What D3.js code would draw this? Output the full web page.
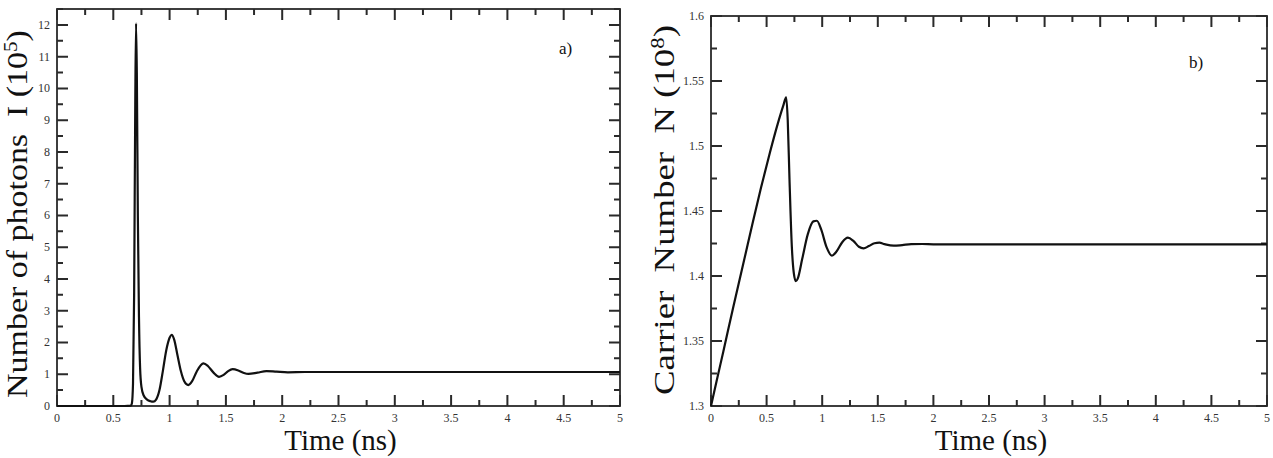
<!DOCTYPE html>
<html>
<head>
<meta charset="utf-8">
<script src="https://cdn.jsdelivr.net/npm/d3@7"></script>
<style>
  body { margin: 0; background: #fff; }
  svg { display: block; }
</style>
</head>
<body>
<svg id="chart" width="1273" height="458"></svg>
<script>
// panel a) photon number (10^5) vs time (ns)
const timeA = [0, 0.6, 0.655, 0.665, 0.675, 0.685, 0.695, 0.702, 0.709, 0.718, 0.728, 0.738, 0.75, 0.77, 0.8, 0.83, 0.855,
  0.88, 0.91, 0.94, 0.97, 1.0, 1.018, 1.04, 1.07, 1.1, 1.13, 1.166, 1.2, 1.24, 1.3, 1.34, 1.39, 1.439, 1.48, 1.52, 1.56,
  1.61, 1.66, 1.7, 1.78, 1.86, 1.95, 2.05, 2.2, 2.5, 3, 4, 5]
const photons = [0, 0, 0.01, 0.08, 0.7, 3.5, 9.5, 12.05, 10.5, 6, 2.8, 1.2, 0.6, 0.33, 0.2, 0.15, 0.135,
  0.2, 0.5, 1.1, 1.75, 2.15, 2.24, 2.1, 1.6, 1.1, 0.78, 0.66, 0.78, 1.08, 1.34, 1.26, 1.05, 0.92, 0.98, 1.1, 1.16,
  1.12, 1.04, 1.01, 1.05, 1.1, 1.08, 1.06, 1.07, 1.07, 1.07, 1.07, 1.07]

// panel b) carrier number (10^8) vs time (ns)
const timeB = [0, 0.05, 0.111, 0.2, 0.3, 0.375, 0.45, 0.53, 0.6, 0.65, 0.676, 0.69, 0.706, 0.727, 0.745, 0.763, 0.78,
  0.82, 0.87, 0.92, 0.952, 0.99, 1.04, 1.087, 1.13, 1.18, 1.231, 1.28, 1.33, 1.372, 1.42, 1.47, 1.514, 1.56, 1.643,
  1.72, 1.8, 1.9, 2.0, 2.5, 3, 4, 5]
const carriers = [1.3, 1.319, 1.342, 1.376, 1.413, 1.441, 1.468, 1.495, 1.517, 1.531, 1.5375, 1.52, 1.474, 1.4225, 1.402, 1.396, 1.398,
  1.413, 1.432, 1.442, 1.4425, 1.436, 1.422, 1.4156, 1.419, 1.426, 1.4295, 1.427, 1.4225, 1.4213, 1.423, 1.4252, 1.4256, 1.4245, 1.4233,
  1.4238, 1.4245, 1.4246, 1.4244, 1.4244, 1.4244, 1.4244, 1.4244]

const xMajor = [0, 0.5, 1, 1.5, 2, 2.5, 3, 3.5, 4, 4.5, 5]
const xMinor = [0.25, 0.75, 1.25, 1.75, 2.25, 2.75, 3.25, 3.75, 4.25, 4.75]
const yMajorA = [0, 1, 2, 3, 4, 5, 6, 7, 8, 9, 10, 11, 12]
const yMinorA = [0.5, 1.5, 2.5, 3.5, 4.5, 5.5, 6.5, 7.5, 8.5, 9.5, 10.5, 11.5, 12.5]
const yMajorB = [1.3, 1.35, 1.4, 1.45, 1.5, 1.55, 1.6]
const yMinorB = [1.325, 1.375, 1.425, 1.475, 1.525, 1.575]

const SERIF = '"Liberation Serif", "Times New Roman", serif'
const MAJOR = 11
const MINOR = 6
const TICK_W = 2
const AXIS_COLOR = '#2a2a2a'

const svg = d3.select('#chart')

function drawPanel(opt) {
  const { left, right, top, bottom } = opt
  const x = d3.scaleLinear().domain([0, 5]).range([left, right])
  const y = d3.scaleLinear().domain(opt.yDomain).range([bottom, top])
  const g = svg.append('g')
  const fmt = d3.format('~g')

  g.append('rect')
    .attr('x', left).attr('y', top)
    .attr('width', right - left).attr('height', bottom - top)
    .attr('fill', 'none').attr('stroke', AXIS_COLOR).attr('stroke-width', 1.8)

  // inward ticks on all four sides
  const xt = xMajor.map(v => [v, MAJOR]).concat(xMinor.map(v => [v, MINOR]))
  const yt = opt.yMajor.map(v => [v, MAJOR]).concat(opt.yMinor.map(v => [v, MINOR]))

  const tickPath = d3.path()
  xt.forEach(([v, len]) => {
    tickPath.moveTo(x(v), bottom); tickPath.lineTo(x(v), bottom - len)
    tickPath.moveTo(x(v), top); tickPath.lineTo(x(v), top + len)
  })
  yt.forEach(([v, len]) => {
    tickPath.moveTo(left, y(v)); tickPath.lineTo(left + len, y(v))
    tickPath.moveTo(right, y(v)); tickPath.lineTo(right - len, y(v))
  })
  g.append('path')
    .attr('d', tickPath.toString())
    .attr('fill', 'none')
    .attr('stroke', AXIS_COLOR)
    .attr('stroke-width', TICK_W)

  // tick labels
  const labelStyle = s => s
    .style('font-family', SERIF)
    .style('font-size', '12px')
    .attr('fill', '#333')

  g.append('g').selectAll('text').data(xMajor).join('text')
    .attr('x', d => x(d))
    .attr('y', bottom + 16)
    .attr('text-anchor', 'middle')
    .call(labelStyle)
    .text(fmt)

  g.append('g').selectAll('text').data(opt.yMajor).join('text')
    .attr('x', left - 7)
    .attr('y', d => y(d) + 4)
    .attr('text-anchor', 'end')
    .call(labelStyle)
    .text(fmt)

  const line = d3.line()
    .x(d => x(d[0]))
    .y(d => y(d[1]))
    .curve(d3.curveMonotoneX)

  g.append('path')
    .datum(d3.zip(opt.times, opt.values))
    .attr('d', line)
    .attr('fill', 'none')
    .attr('stroke', '#111')
    .attr('stroke-width', 2.2)
    .attr('stroke-linejoin', 'round')

  // x title
  g.append('text')
    .attr('x', (left + right) / 2 + 2)
    .attr('y', 450)
    .attr('text-anchor', 'middle')
    .style('font-family', SERIF)
    .style('font-size', '29px')
    .attr('fill', '#111')
    .text('Time (ns)')

  // y title, stretched to the span seen in the figure
  const ytitle = g.append('text')
    .attr('text-anchor', 'middle')
    .style('font-family', SERIF)
    .style('font-size', '29px')
    .style('white-space', 'pre')
    .attr('fill', '#111')
  ytitle.append('tspan').text(opt.yTitle)
  ytitle.append('tspan').attr('dy', -10).style('font-size', '18px').text(opt.yExp)
  ytitle.append('tspan').attr('dy', 10).text(')')
  const natural = ytitle.node().getComputedTextLength()
  const sx = opt.yTitleLen / natural
  ytitle.attr('transform', `translate(${opt.yTitleX},${opt.yTitleMid}) rotate(-90) scale(${sx},1)`)

  // panel tag
  g.append('text')
    .attr('x', opt.tagX).attr('y', opt.tagY)
    .style('font-family', SERIF)
    .style('font-size', '17px')
    .attr('fill', '#111')
    .text(opt.tag)
}

drawPanel({
  left: 57, right: 620, top: 9, bottom: 406,
  yDomain: [0, 12.5], yMajor: yMajorA, yMinor: yMinorA,
  times: timeA, values: photons,
  yTitle: 'Number of photons  I (10', yExp: '5',
  yTitleX: 27, yTitleMid: 214, yTitleLen: 368,
  tag: 'a)', tagX: 559, tagY: 54
})

drawPanel({
  left: 711, right: 1267, top: 16, bottom: 406,
  yDomain: [1.3, 1.6], yMajor: yMajorB, yMinor: yMinorB,
  times: timeB, values: carriers,
  yTitle: 'Carrier  Number  N (10', yExp: '8',
  yTitleX: 674, yTitleMid: 210, yTitleLen: 370,
  tag: 'b)', tagX: 1189, tagY: 68
})
</script>
</body>
</html>
